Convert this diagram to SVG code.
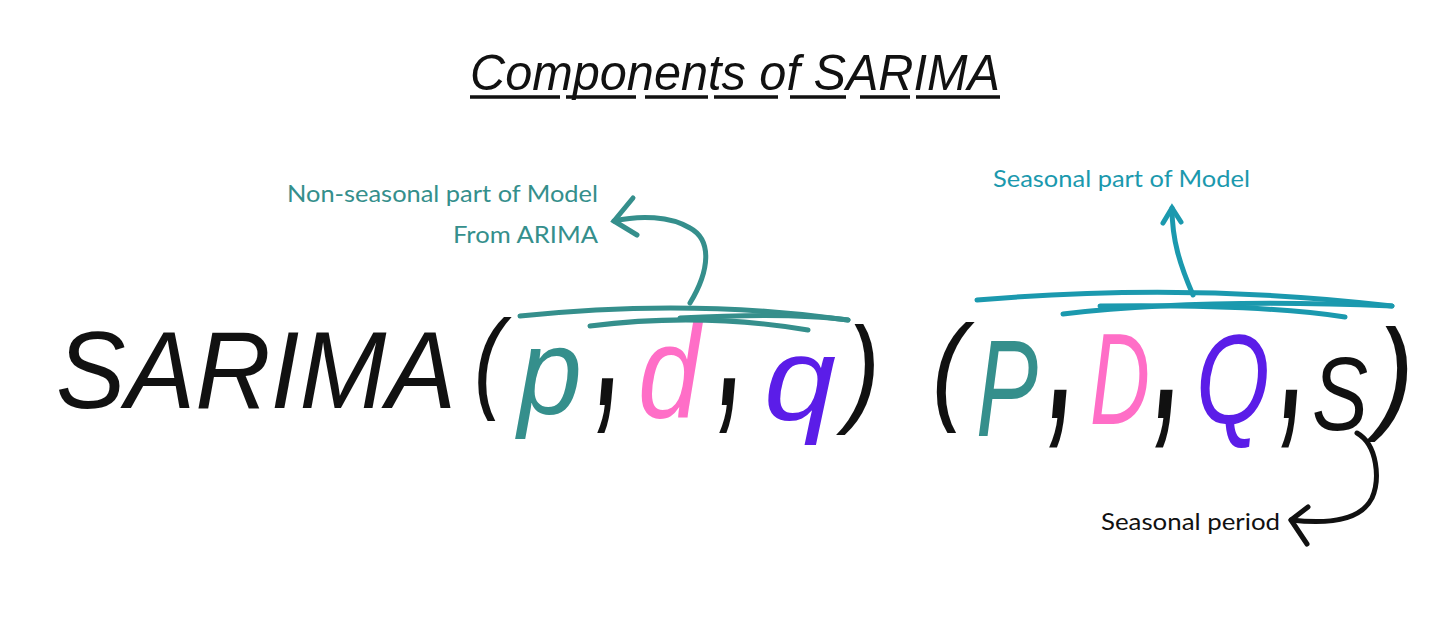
<svg xmlns="http://www.w3.org/2000/svg" width="1442" height="642" viewBox="0 0 1442 642">
<style>
.hand{font-family:"Liberation Sans",Arial,sans-serif;font-style:italic;}
.cm{font-weight:bold;}
.lbl{font-family:Lato,"Open Sans",sans-serif;font-size:23px;}
.teal{fill:#358f8c;}
.cyan{fill:#1b99ae;}
.pink{fill:#ff6ec7;}
.purple{fill:#5b1de8;}
.blk{fill:#111;}
.ul{stroke:#111;stroke-width:3.5;}
.lt{fill:none;stroke:#358f8c;stroke-width:5;stroke-linecap:round;}
.lc{fill:none;stroke:#1b99ae;stroke-width:5;stroke-linecap:round;}
.lk{fill:none;stroke:#111;stroke-width:5;stroke-linecap:round;stroke-linejoin:round;}
</style>
<rect width="1442" height="642" fill="#fff"/>
<g id="title">
<text class="hand blk" x="470" y="90" font-size="50" textLength="530" lengthAdjust="spacingAndGlyphs">Components of SARIMA</text>
<path class="ul" d="M470 97H560M566 97H636M645 97H708M714 97H778M790 97H846M860 97H910M916 97H1000"/>
</g>
<g id="label-nonseasonal">
<text class="lbl teal" x="598" y="202" text-anchor="end" textLength="311" lengthAdjust="spacingAndGlyphs">Non-seasonal part of Model</text>
<text class="lbl teal" x="598" y="243" text-anchor="end" textLength="145" lengthAdjust="spacingAndGlyphs">From ARIMA</text>
</g>
<g id="label-seasonal">
<text class="lbl cyan" x="993" y="187" textLength="257" lengthAdjust="spacingAndGlyphs">Seasonal part of Model</text>
</g>
<g id="label-period">
<text class="lbl blk" x="1101" y="530" textLength="179" lengthAdjust="spacingAndGlyphs">Seasonal period</text>
</g>
<g id="formula-sarima">
<text class="hand blk" x="56" y="408" font-size="110" textLength="400" lengthAdjust="spacingAndGlyphs">SARIMA</text>
</g>
<g id="formula-nonseasonal">
<text class="hand blk" x="474" y="398" font-size="112" textLength="30" lengthAdjust="spacingAndGlyphs">(</text>
<text class="hand teal" x="518" y="414" font-size="122" textLength="64" lengthAdjust="spacingAndGlyphs">p</text>
<text class="hand cm blk" x="598" y="405" font-size="180" textLength="22" lengthAdjust="spacingAndGlyphs">,</text>
<text class="hand pink" x="638" y="418" font-size="132" textLength="62" lengthAdjust="spacingAndGlyphs">d</text>
<text class="hand cm blk" x="720" y="405" font-size="180" textLength="22" lengthAdjust="spacingAndGlyphs">,</text>
<text class="hand purple" x="764" y="420" font-size="118" textLength="72" lengthAdjust="spacingAndGlyphs">q</text>
<text class="hand blk" x="846" y="410" font-size="118" textLength="34" lengthAdjust="spacingAndGlyphs">)</text>
</g>
<g id="formula-seasonal">
<text class="hand blk" x="932" y="408" font-size="118" textLength="34" lengthAdjust="spacingAndGlyphs">(</text>
<text class="hand teal" x="976" y="436" font-size="138" textLength="62" lengthAdjust="spacingAndGlyphs">P</text>
<text class="hand cm blk" x="1050" y="418" font-size="190" textLength="24" lengthAdjust="spacingAndGlyphs">,</text>
<text class="hand pink" x="1090" y="424" font-size="130" textLength="60" lengthAdjust="spacingAndGlyphs">D</text>
<text class="hand cm blk" x="1156" y="418" font-size="190" textLength="24" lengthAdjust="spacingAndGlyphs">,</text>
<text class="hand purple" x="1196" y="424" font-size="128" textLength="74" lengthAdjust="spacingAndGlyphs">Q</text>
<text class="hand cm blk" x="1282" y="418" font-size="190" textLength="22" lengthAdjust="spacingAndGlyphs">,</text>
<text class="hand blk" x="1312" y="430" font-size="104" textLength="56" lengthAdjust="spacingAndGlyphs">S</text>
<text class="hand blk" x="1376" y="416" font-size="124" textLength="38" lengthAdjust="spacingAndGlyphs">)</text>
</g>
<g id="connectors">
<path class="lt" d="M520 316Q690 298 848 320"/>
<path class="lt" d="M590 326Q700 312 808 330"/>
<path class="lt" d="M680 318Q790 312 848 320"/>
<path class="lt" d="M690 303C710 270 712 240 690 228C670 216 640 215 614 221"/>
<path class="lt" d="M633 198L614 221L637 235"/>
<path class="lc" d="M977 300Q1190 282 1392 306"/>
<path class="lc" d="M1063 314Q1200 298 1392 306"/>
<path class="lc" d="M1100 306Q1260 304 1345 317"/>
<path class="lc" d="M1193 295C1180 265 1172 240 1172 208"/>
<path class="lc" d="M1163 223L1172 208L1181 222"/>
<path class="lk" d="M1357 433C1378 445 1380 480 1372 498C1360 522 1325 524 1291 520"/>
<path class="lk" d="M1308 507L1291 520L1307 544"/>
</g>
</svg>
